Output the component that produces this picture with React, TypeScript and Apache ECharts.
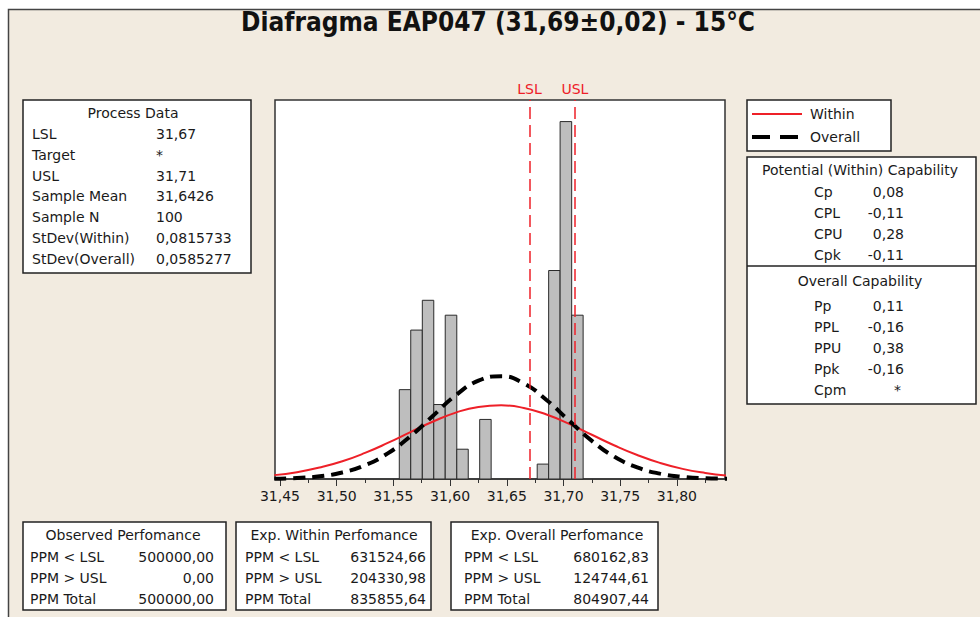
import React, { useEffect, useRef } from "react";
import * as echarts from "echarts";

const TITLE = "Diafragma EAP047 (31,69±0,02) - 15°C";
const LSL = 31.67;
const USL = 31.71;

const binEdges = [31.5552, 31.5653, 31.5755, 31.5856, 31.5957, 31.6059, 31.616, 31.6261, 31.6362, 31.6464, 31.6565, 31.6666, 31.6768, 31.6869, 31.697, 31.7072, 31.7173];
const binCounts = [6, 10, 12, 5, 11, 2, 0, 4, 0, 0, 0, 0, 1, 14, 24, 11];

const curveX = [31.445, 31.465, 31.485, 31.505, 31.525, 31.545, 31.565, 31.585, 31.605, 31.625, 31.645, 31.665, 31.685, 31.705, 31.725, 31.745, 31.765, 31.785, 31.805, 31.825, 31.845];
const withinY = [0.26, 0.46, 0.77, 1.19, 1.75, 2.42, 3.15, 3.86, 4.46, 4.84, 4.95, 4.77, 4.33, 3.7, 2.97, 2.25, 1.61, 1.08, 0.68, 0.41, 0.23];
const overallY = [0.02, 0.07, 0.18, 0.44, 0.92, 1.72, 2.87, 4.25, 5.62, 6.6, 6.9, 6.42, 5.31, 3.91, 2.56, 1.49, 0.78, 0.36, 0.15, 0.05, 0.02];

const tickValues = [31.45, 31.5, 31.55, 31.6, 31.65, 31.7, 31.75, 31.8];
const tickLabels = ["31,45", "31,50", "31,55", "31,60", "31,65", "31,70", "31,75", "31,80"];
const minorTickValues = [31.475, 31.525, 31.575, 31.625, 31.675, 31.725, 31.775, 31.825];

const processLabels = ["LSL", "Target", "USL", "Sample Mean", "Sample N", "StDev(Within)", "StDev(Overall)"];
const processValues = ["31,67", "*", "31,71", "31,6426", "100", "0,0815733", "0,0585277"];

const withinCapLabels = ["Cp", "CPL", "CPU", "Cpk"];
const withinCapValues = ["0,08", "-0,11", "0,28", "-0,11"];
const overallCapLabels = ["Pp", "PPL", "PPU", "Ppk", "Cpm"];
const overallCapValues = ["0,11", "-0,16", "0,38", "-0,16", "*"];

const perfLabels = ["PPM < LSL", "PPM > USL", "PPM Total"];
const perfTitles = ["Observed Perfomance", "Exp. Within Perfomance", "Exp. Overall Perfomance"];
const observedPerf = ["500000,00", "0,00", "500000,00"];
const expWithinPerf = ["631524,66", "204330,98", "835855,64"];
const expOverallPerf = ["680162,83", "124744,61", "804907,44"];

const FONT = "'DejaVu Sans', Verdana, sans-serif";
const TXT = "#1a1a1a";
const RED = "#EE2028";

function txt(x: number, y: number, s: string, align: string = "left", extra: any = {}) {
  return {
    type: "text",
    x,
    y,
    z: 20,
    silent: true,
    style: {
      text: s,
      fill: TXT,
      font: `14px ${FONT}`,
      textAlign: align,
      textVerticalAlign: "middle",
      ...extra,
    },
  };
}

function box(x: number, y: number, w: number, h: number) {
  return {
    type: "rect",
    z: 15,
    silent: true,
    shape: { x, y, width: w, height: h },
    style: { fill: "#ffffff", stroke: "#222", lineWidth: 1.5 },
  };
}

export default function App() {
  const ref = useRef<HTMLDivElement>(null);

  useEffect(() => {
    if (!ref.current) return;
    const chart = echarts.init(ref.current, undefined, { renderer: "svg" });

    const graphics: any[] = [];
    // outer beige frame
    graphics.push({
      type: "rect",
      z: -10,
      silent: true,
      shape: { x: 8.5, y: 9.5, width: 990, height: 640 },
      style: { fill: "#F2EBE0", stroke: "#444", lineWidth: 1.5 },
    });
    graphics.push({
      type: "text",
      x: 498,
      y: 22,
      z: 20,
      silent: true,
      style: {
        text: TITLE,
        fill: "#111",
        font: `bold 26px 'DejaVu Sans Condensed', 'Liberation Sans Narrow', 'DejaVu Sans', sans-serif`,
        textAlign: "center",
        textVerticalAlign: "middle",
      },
    });

    // Process data
    graphics.push(box(23, 100, 228, 173));
    graphics.push(txt(133, 113, "Process Data", "center"));
    processLabels.forEach((l, i) => {
      const y = 134 + i * 20.8;
      graphics.push(txt(32, y, l));
      graphics.push(txt(156, y, processValues[i]));
    });

    // Legend
    graphics.push(box(747, 100, 144, 51));
    graphics.push({
      type: "line",
      z: 20,
      silent: true,
      shape: { x1: 752, y1: 114, x2: 802, y2: 114 },
      style: { stroke: RED, lineWidth: 2 },
    });
    graphics.push({
      type: "line",
      z: 20,
      silent: true,
      shape: { x1: 752, y1: 137, x2: 800, y2: 137 },
      style: { stroke: "#000", lineWidth: 4, lineDash: [18, 10] },
    });
    graphics.push(txt(810, 114, "Within"));
    graphics.push(txt(810, 137, "Overall"));

    // Capability box
    graphics.push(box(747, 157, 229, 247));
    graphics.push({
      type: "line",
      z: 20,
      silent: true,
      shape: { x1: 747, y1: 266, x2: 976, y2: 266 },
      style: { stroke: "#222", lineWidth: 1.5 },
    });
    graphics.push(txt(860, 170, "Potential (Within) Capability", "center"));
    withinCapLabels.forEach((l, i) => {
      const y = 192 + i * 21;
      graphics.push(txt(814, y, l));
      graphics.push(txt(904, y, withinCapValues[i], "right"));
    });
    graphics.push(txt(860, 281, "Overall Capability", "center"));
    overallCapLabels.forEach((l, i) => {
      const y = 306 + i * 21;
      graphics.push(txt(814, y, l));
      graphics.push(txt(overallCapValues[i] === "*" ? 901 : 904, y, overallCapValues[i], "right"));
    });

    // Performance boxes
    const perfBoxes = [
      { x0: 23, x1: 226, lx: 30, vx: 214, hx: 123, vals: observedPerf },
      { x0: 236, x1: 431, lx: 245, vx: 426, hx: 334, vals: expWithinPerf },
      { x0: 451, x1: 658, lx: 464, vx: 649, hx: 557, vals: expOverallPerf },
    ];
    perfBoxes.forEach((b, k) => {
      graphics.push(box(b.x0, 522, b.x1 - b.x0, 88));
      graphics.push(txt(b.hx, 535, perfTitles[k], "center"));
      perfLabels.forEach((l, i) => {
        const y = 557 + i * 21;
        graphics.push(txt(b.lx, y, l));
        graphics.push(txt(b.vx, y, b.vals[i], "right"));
      });
    });

    const xMin = 31.4456;
    const xMax = 31.8424;

    const option: any = {
      animation: false,
      backgroundColor: "#ffffff",
      grid: {
        left: 275,
        top: 100,
        width: 450,
        height: 379,
        show: true,
        backgroundColor: "#ffffff",
        borderColor: "#333",
        borderWidth: 1.5,
        containLabel: false,
      },
      xAxis: [
        {
          type: "value",
          min: xMin,
          max: xMax,
          position: "bottom",
          axisLine: { show: true, onZero: false, lineStyle: { color: "#333", width: 1.5 } },
          axisTick: { show: true, customValues: tickValues, length: 7, lineStyle: { color: "#333", width: 1 } },
          axisLabel: {
            show: true,
            customValues: tickValues,
            formatter: (v: number) => {
              const i = tickValues.findIndex((t) => Math.abs(t - v) < 1e-6);
              return i >= 0 ? tickLabels[i] : "";
            },
            color: TXT,
            fontSize: 14,
            fontFamily: FONT,
            margin: 10,
          },
          splitLine: { show: false },
        },
        {
          type: "value",
          min: xMin,
          max: xMax,
          position: "bottom",
          offset: 0,
          axisLine: { show: false, onZero: false },
          axisTick: { show: true, customValues: minorTickValues, length: 4, lineStyle: { color: "#333", width: 1 } },
          axisLabel: { show: false },
          splitLine: { show: false },
        },
      ],
      yAxis: {
        type: "value",
        min: 0,
        max: 25.45,
        show: false,
        splitLine: { show: false },
      },
      graphic: { elements: graphics },
      series: [
        {
          type: "line",
          z: 1,
          data: [[LSL, 0]],
          showSymbol: false,
          symbol: "none",
          lineStyle: { opacity: 0 },
          silent: true,
          markLine: {
            silent: true,
            symbol: ["none", "none"],
            lineStyle: { color: RED, type: [12, 6], width: 1.5 },
            label: { show: true, position: "end", color: RED, fontSize: 14, fontFamily: FONT, distance: 4 },
            data: [
              { xAxis: LSL, label: { formatter: "LSL" } },
              { xAxis: USL, label: { formatter: "USL" } },
            ],
          },
        },
        {
          type: "custom",
          z: 2,
          silent: true,
          data: binCounts.map((c, i) => [binEdges[i], binEdges[i + 1], c]),
          encode: { x: [0, 1], y: 2 },
          renderItem: (params: any, api: any) => {
            const x0 = api.value(0);
            const x1 = api.value(1);
            const c = api.value(2);
            if (!c) return null;
            const p0 = api.coord([x0, c]);
            const p1 = api.coord([x1, 0]);
            return {
              type: "rect",
              shape: { x: p0[0], y: p0[1], width: p1[0] - p0[0], height: p1[1] - p0[1] },
              style: { fill: "#BEBEBE", stroke: "#2a2a2a", lineWidth: 1 },
            };
          },
        },
        {
          type: "line",
          name: "Within",
          z: 3,
          data: curveX.map((x, i) => [x, withinY[i]]),
          smooth: true,
          showSymbol: false,
          symbol: "none",
          silent: true,
          clip: true,
          lineStyle: { color: RED, width: 2 },
        },
        {
          type: "line",
          name: "Overall",
          z: 4,
          data: curveX.map((x, i) => [x, overallY[i]]),
          smooth: true,
          showSymbol: false,
          symbol: "none",
          silent: true,
          clip: true,
          lineStyle: { color: "#000", width: 4, type: [12, 7] },
        },
      ],
    };

    chart.setOption(option);
    return () => {
      chart.dispose();
    };
  }, []);

  return (
    <div
      ref={ref}
      style={{ position: "fixed", left: 0, top: 0, width: 980, height: 617, background: "#fff" }}
    />
  );
}
